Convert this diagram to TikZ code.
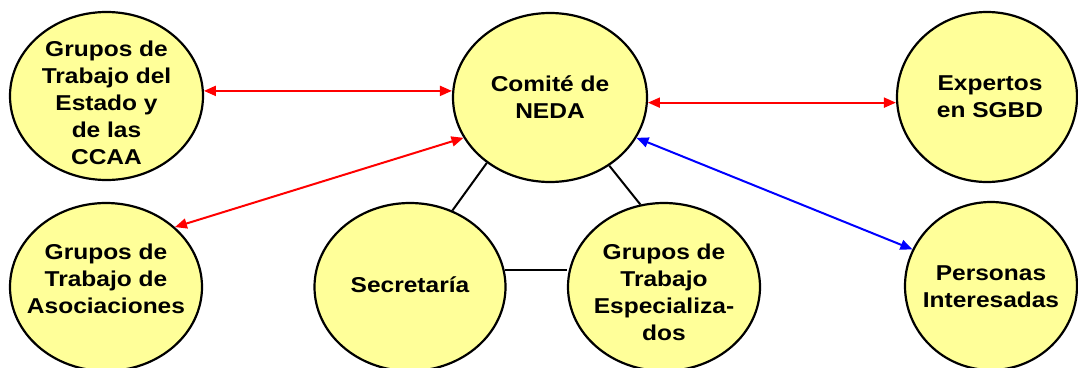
\documentclass[tikz,border=0pt]{standalone}
\usepackage{fontspec}
\newfontfamily\bubblefont{Liberation Sans}[FakeStretch=1.14]
\usetikzlibrary{shapes.geometric,arrows.meta}
\definecolor{bubbleyellow}{RGB}{255,255,153}
\definecolor{linkred}{RGB}{255,0,0}
\definecolor{linkblue}{RGB}{0,0,255}
\tikzset{
  bubble/.style={ellipse, draw=black, line width=2.2pt, fill=bubbleyellow, inner sep=0pt},
  lbl/.style={align=center, inner sep=0pt, font={\fontsize{21.5}{27}\selectfont\bubblefont\bfseries}},
  redlink/.style={draw=linkred, line width=2pt, {Triangle[length=12pt,width=10pt]}-{Triangle[length=12pt,width=10pt]}},
  bluelink/.style={draw=linkblue, line width=2pt, {Triangle[length=12pt,width=10pt]}-{Triangle[length=12pt,width=10pt]}},
  blacklink/.style={draw=black, line width=2pt}
}
\begin{document}
\begin{tikzpicture}[x=1pt,y=-1pt]
\useasboundingbox (0,0) rectangle (1078,367);
\clip (0,0) rectangle (1078,367);
% bubbles
\node[bubble, minimum width=193pt, minimum height=168pt] (estado) at (106.5,96) {};
\node[bubble, minimum width=194pt, minimum height=169pt] (comite) at (550,97.5) {};
\node[bubble, minimum width=180pt, minimum height=170pt] (expertos) at (987,97) {};
\node[bubble, minimum width=192pt, minimum height=168pt] (asoc) at (106,287) {};
\node[bubble, minimum width=191pt, minimum height=168pt] (secre) at (410,287) {};
\node[bubble, minimum width=192pt, minimum height=168pt] (espec) at (664,287) {};
\node[bubble, minimum width=172pt, minimum height=168pt] (personas) at (991,286) {};
% texts
\node[lbl] (estadoT) at (106.5,103) {Grupos de\\Trabajo del\\Estado y\\de las\\CCAA};
\node[lbl] (comiteT) at (550,97) {Comité de\\NEDA};
\node[lbl] (expertosT) at (990,96.5) {Expertos\\en SGBD};
\node[lbl] (asocT) at (106,279) {Grupos de\\Trabajo de\\Asociaciones};
\node[lbl] (secreT) at (410,285) {Secretaría};
\node[lbl] (especT) at (664,292) {Grupos de\\Trabajo\\Especializa-\\dos};
\node[lbl] (personasT) at (991,287) {Personas\\Interesadas};
% connectors
\draw[redlink] (estado.3) -- (estado.3 -| comite.west);
\draw[redlink] (comite.-3) -- (comite.-3 -| expertos.west);
\draw[redlink] (comite.205) -- (asoc.41);
\draw[bluelink] (comite.-25) -- (personas.155);
\draw[blacklink] (comite.226.6) -- (secre.61.4);
\draw[blacklink] (comite.-49.3) -- (espec.106);
\draw[blacklink] (secre.10) -- (secre.10 -| espec.west);
\end{tikzpicture}
\end{document}
